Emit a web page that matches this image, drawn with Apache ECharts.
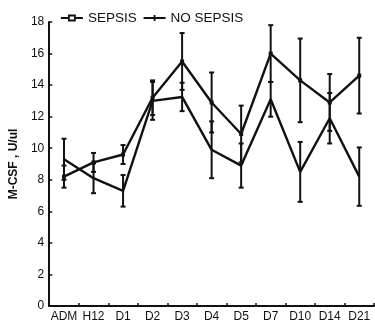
<!DOCTYPE html>
<html><head><meta charset="utf-8">
<script src="https://cdn.jsdelivr.net/npm/echarts@6/dist/echarts.min.js"></script>
<style>html,body{margin:0;padding:0;background:#fff}#c{width:375px;height:323px}</style>
</head><body><div id="c"></div>
<script>
var categories = ['ADM','H12','D1','D2','D3','D4','D5','D7','D10','D14','D21'];
var yTicks = [0,2,4,6,8,10,12,14,16,18];
var sepsis = [8.2, 9.1, 9.6, 13.2, 15.5, 12.9, 10.9, 16.0, 14.3, 12.9, 14.6];
var sepsisErr = [0.7, 0.6, 0.6, 1.1, 1.8, 1.9, 1.8, 1.8, 2.65, 1.8, 2.4];
var noSepsis = [9.3, 8.1, 7.3, 13.0, 13.25, 9.9, 8.9, 13.1, 8.5, 11.9, 8.2];
var noSepsisErr = [1.3, 0.95, 1.0, 1.2, 0.9, 1.8, 1.4, 1.1, 1.9, 1.6, 1.85];

function errData(vals, errs){
  return vals.map(function(v,i){ return [i, v - errs[i], v + errs[i]]; });
}
function errRender(params, api){
  var x = api.value(0);
  var lo = api.coord([x, api.value(1)]);
  var hi = api.coord([x, api.value(2)]);
  var w = 2.5;
  var st = {stroke:'#111', lineWidth:2};
  return {type:'group', children:[
    {type:'line', shape:{x1:lo[0],y1:lo[1],x2:hi[0],y2:hi[1]}, style:st},
    {type:'line', shape:{x1:lo[0]-w,y1:lo[1],x2:lo[0]+w,y2:lo[1]}, style:st},
    {type:'line', shape:{x1:hi[0]-w,y1:hi[1],x2:hi[0]+w,y2:hi[1]}, style:st}
  ]};
}
var chart = echarts.init(document.getElementById('c'));
var font = 'Liberation Sans, Arial, sans-serif';
chart.setOption({
  backgroundColor:'#fff',
  animation:false,
  legend:{
    left:55, top:6, itemGap:6, itemWidth:22, itemHeight:8,
    textStyle:{fontFamily:font, fontSize:13.5, color:'#111'},
    data:[
      {name:'SEPSIS', icon:'path://M0,4 L8,4 M8,1.5 L14,1.5 L14,6.5 L8,6.5 Z M14,4 L22,4'},
      {name:'NO SEPSIS', icon:'path://M0,4 L22,4 M11,1 L11,7'}
    ],
    itemStyle:{color:'transparent', borderColor:'#111', borderWidth:1.8}
  },
  grid:{left:41, right:1, top:22, bottom:17},
  xAxis:{
    type:'category', data:categories, boundaryGap:true,
    axisLine:{lineStyle:{color:'#111', width:2}},
    axisTick:{show:true, inside:true, length:3, lineStyle:{color:'#111', width:1.5}},
    axisLabel:{fontFamily:font, fontSize:12, color:'#111', margin:5, interval:0}
  },
  yAxis:{
    type:'value', min:0, max:18, interval:2,
    name:'M-CSF , U/ul', nameLocation:'middle', nameGap:26, nameRotate:90,
    nameTextStyle:{fontFamily:font, fontSize:12, color:'#111', fontWeight:'bold'},
    splitLine:{show:false},
    axisLine:{show:true, lineStyle:{color:'#111', width:2}},
    axisTick:{show:true, inside:true, length:3, lineStyle:{color:'#111', width:1.5}},
    axisLabel:{fontFamily:font, fontSize:12, color:'#111', margin:5,
      formatter:function(v){ return yTicks.indexOf(v) >= 0 ? String(v) : ''; }}
  },
  series:[
    {name:'SEPSIS', type:'line', data:sepsis, symbol:'rect', symbolSize:4,
      lineStyle:{color:'#111', width:2.4}, itemStyle:{color:'#111'}, z:3},
    {name:'NO SEPSIS', type:'line', data:noSepsis, symbol:'none',
      lineStyle:{color:'#111', width:2.4}, itemStyle:{color:'#111'}, z:3},
    {name:'SEPSIS err', type:'custom', data:errData(sepsis, sepsisErr), renderItem:errRender, z:2},
    {name:'NO SEPSIS err', type:'custom', data:errData(noSepsis, noSepsisErr), renderItem:errRender, z:2}
  ]
});
</script></body></html>
